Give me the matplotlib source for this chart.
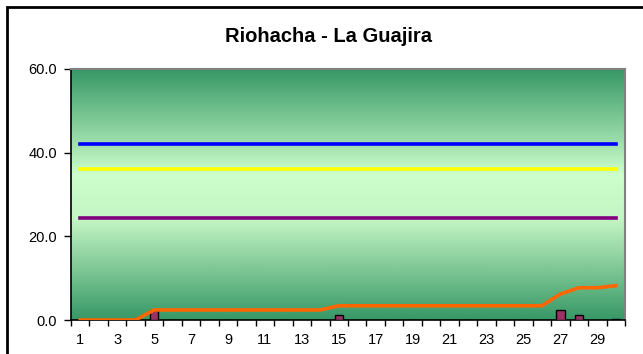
import matplotlib
matplotlib.use('Agg')
import matplotlib.pyplot as plt
from matplotlib.colors import LinearSegmentedColormap
from matplotlib.patches import Rectangle
import numpy as np

plt.rcParams['font.family'] = ['Liberation Sans', 'DejaVu Sans']

# Data

days = list(range(1, 31))
rain = [0, 0, 0, 0, 2.4, 0, 0, 0, 0, 0,
        0, 0, 0, 0, 1.2, 0, 0, 0, 0, 0,
        0, 0, 0, 0, 0, 0, 2.3, 1.3, 0, 0.3]
accum = [0, 0, 0, 0, 2.4, 2.4, 2.4, 2.4, 2.4, 2.4,
         2.4, 2.4, 2.4, 2.4, 3.4, 3.4, 3.4, 3.4, 3.4, 3.4,
         3.4, 3.4, 3.4, 3.4, 3.4, 3.4, 6.2, 7.7, 7.7, 8.2]
ref_levels = [42.0, 36.0, 24.5]
ref_colors = ['#0000ff', '#ffff00', '#800080']
title = 'Riohacha - La Guajira'

W, H = 643, 354
fig = plt.figure(figsize=(W / 100, H / 100), dpi=100)
ax = fig.add_axes([71 / W, (H - 320) / H, (625 - 71) / W, (320 - 69) / H])

# Gradient background

cmap = LinearSegmentedColormap.from_list(
    'bg', [(0.0, '#379866'), (0.42, '#ccffcc'), (0.6, '#c4f5c4'), (1.0, '#379866')])
grad = np.linspace(0, 1, 256).reshape(-1, 1)
ax.imshow(grad, cmap=cmap, aspect='auto', extent=[0.5, 30.5, 0, 60],
          origin='upper', zorder=0)

for lvl, c in zip(ref_levels, ref_colors):
    ax.plot([days[0], days[-1]], [lvl, lvl], color=c, lw=2.6, zorder=2)

ax.bar(days, rain, width=0.45, color='#993366', edgecolor='black', lw=1.0, zorder=3)
ax.plot(days, accum, color='#ff6600', lw=2.6, zorder=4)

ax.set_xlim(0.5, 30.5)
ax.set_ylim(0, 60)
ax.set_yticks([0, 20, 40, 60])
ax.set_yticklabels(['%.1f' % v for v in [0, 20, 40, 60]], fontsize=10.5)
ax.set_xticks(days[::2])
ax.set_xticklabels([str(d) for d in days[::2]], fontsize=10.5)
ax.set_xticks(np.arange(0.5, 31, 1), minor=True)
ax.tick_params(axis='x', which='major', length=0, pad=9)
ax.tick_params(axis='x', which='minor', length=4, direction='out', width=1)
ax.tick_params(axis='y', length=5, direction='out', width=1, pad=5)

for s in ['left', 'bottom']:
    ax.spines[s].set_color('black')
    ax.spines[s].set_linewidth(1.2)
for s in ['top', 'right']:
    ax.spines[s].set_color('#808080')
    ax.spines[s].set_linewidth(1.5)

fig.text(328 / W, 1 - 36 / H, title, ha='center', va='center',
         fontsize=14.5, fontweight='bold')

# Outer frame
fig.patches.append(Rectangle((7 / W, -0.1), 1.0, 1 - 7 / H + 0.1,
                             transform=fig.transFigure, fill=False,
                             edgecolor='black', lw=2))

fig.savefig('out.png', dpi=100)
